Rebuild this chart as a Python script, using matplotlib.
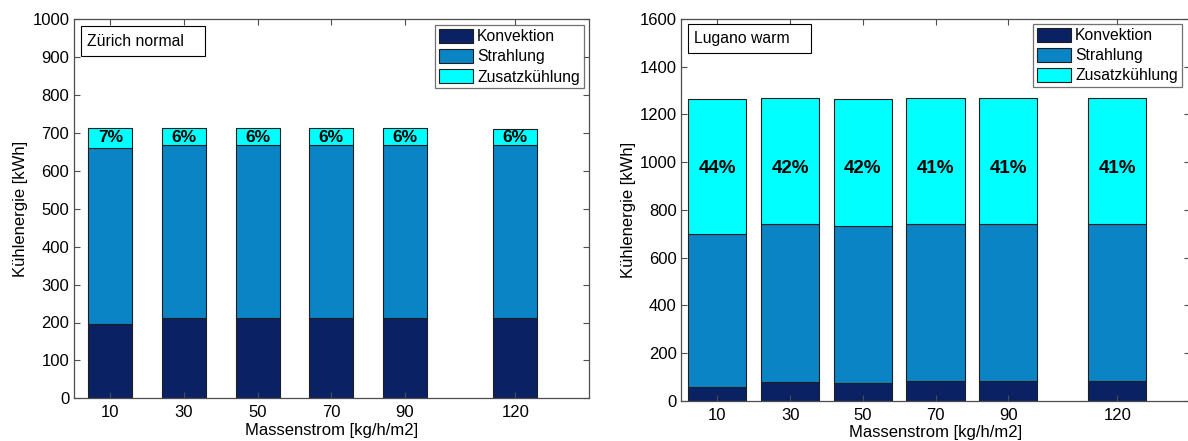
import matplotlib
matplotlib.use('Agg')
import matplotlib.pyplot as plt
from matplotlib.patches import Rectangle

plt.rcParams['font.family'] = ['Liberation Sans', 'DejaVu Sans']

# Massenstrom [kg/h/m2]
massenstrom = [10, 30, 50, 70, 90, 120]

# Zuerich normal [kWh]
zh_konvektion = [197, 213, 213, 213, 213, 213]
zh_strahlung = [464, 455, 455, 455, 455, 455]
zh_zusatz = [51, 44, 44, 44, 44, 42]
zh_prozent = ['7%', '6%', '6%', '6%', '6%', '6%']

# Lugano warm [kWh]
lu_konvektion = [57, 78, 75, 82, 82, 82]
lu_strahlung = [643, 661, 656, 660, 660, 660]
lu_zusatz = [565, 530, 534, 527, 527, 527]
lu_prozent = ['44%', '42%', '42%', '41%', '41%', '41%']

labels = ['Konvektion', 'Strahlung', 'Zusatzkühlung']
colors = ['#0a2264', '#0b84c6', '#00ffff']
edge = '#1e1e1e'
spine_color = '0.3'

W, H = 1188, 441
fig = plt.figure(figsize=(W / 100, H / 100), dpi=100)


def px_axes(left, top, right, bottom):
    return fig.add_axes([left / W, 1 - bottom / H, (right - left) / W, (bottom - top) / H])


def draw_panel(ax, konv, strahl, zusatz, prozent, ymax, ystep, width, title,
               pct_size, pct_y, legend_anchor, box):
    bottom2 = [a + b for a, b in zip(konv, strahl)]
    ax.bar(massenstrom, konv, width=width, color=colors[0], edgecolor=edge,
           linewidth=0.8, label=labels[0])
    ax.bar(massenstrom, strahl, width=width, bottom=konv, color=colors[1],
           edgecolor=edge, linewidth=0.8, label=labels[1])
    ax.bar(massenstrom, zusatz, width=width, bottom=bottom2, color=colors[2],
           edgecolor=edge, linewidth=0.8, label=labels[2])

    # share of additional cooling, written inside the top segment
    for x, p in zip(massenstrom, prozent):
        ax.text(x, pct_y, p, ha='center', va='center', fontsize=pct_size,
                fontweight='bold', color='black')

    ax.set_xlim(0, 140)
    ax.set_ylim(0, ymax)
    ax.set_xticks(massenstrom)
    ax.set_yticks(range(0, ymax + 1, ystep))
    ax.tick_params(direction='in', top=True, right=True, length=4.5,
                   width=0.8, color=spine_color, labelsize=12, pad=3)
    ax.tick_params(axis='x', pad=5)
    for s in ax.spines.values():
        s.set_color(spine_color)
        s.set_linewidth(0.9)
    ax.set_xlabel('Massenstrom [kg/h/m2]', fontsize=12, labelpad=2)
    ax.set_ylabel('Kühlenergie [kWh]', fontsize=12, labelpad=3)

    # location label box
    bx, by, bw, bh = box
    ax.add_patch(Rectangle((bx, by), bw, bh, transform=ax.transAxes,
                           facecolor='white', edgecolor='black', linewidth=0.8,
                           zorder=5))
    ax.text(bx + 0.012, by + bh / 2, title, transform=ax.transAxes,
            ha='left', va='center', fontsize=11.3, zorder=6)

    leg = ax.legend(loc='upper right', bbox_to_anchor=legend_anchor,
                    fontsize=11.3, frameon=True, fancybox=False,
                    handlelength=2.2, handleheight=1.0, handletextpad=0.25,
                    borderpad=0.25, labelspacing=0.3, borderaxespad=0)
    leg.get_frame().set_edgecolor('0.3')
    leg.get_frame().set_linewidth(0.9)


ax1 = px_axes(73.5, 19.3, 589, 398.3)
draw_panel(ax1, zh_konvektion, zh_strahlung, zh_zusatz, zh_prozent, 1000, 100,
           12, 'Zürich normal', 12.5, 688, (0.990, 0.985),
           (0.0145, 0.903, 0.2405, 0.079))

ax2 = px_axes(681, 19, 1190, 400.7)
draw_panel(ax2, lu_konvektion, lu_strahlung, lu_zusatz, lu_prozent, 1600, 200,
           16, 'Lugano warm', 13.5, 972, (0.984, 0.988),
           (0.0138, 0.911, 0.2417, 0.076))

fig.savefig('out.png', dpi=100)
